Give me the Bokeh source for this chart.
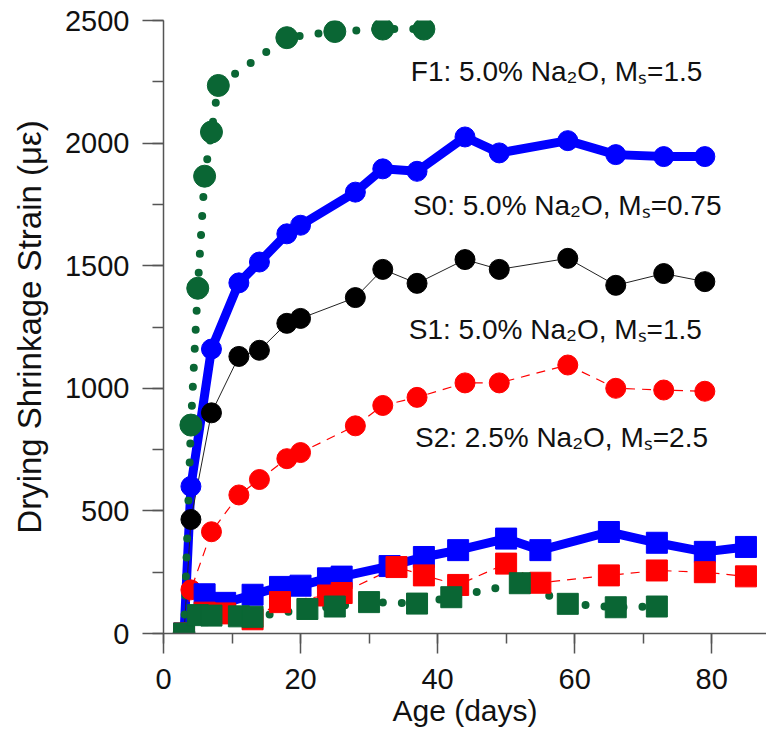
from bokeh.plotting import figure
from bokeh.models import Range1d, SingleIntervalTicker, Label
from bokeh.embed import file_html
from bokeh.resources import INLINE

# ---------------- data ----------------
# circles: drying shrinkage of each mix
circ_days = [3, 4, 7, 11, 14, 18, 20, 28, 32, 37, 44, 49, 59, 66, 73, 79]
s0_strain = [0, 600, 1160, 1430, 1515, 1630, 1665, 1800, 1895, 1885, 2025, 1960, 2010, 1953, 1945, 1945]
s1_strain = [0, 465, 900, 1130, 1155, 1265, 1285, 1370, 1485, 1428, 1525, 1485, 1530, 1420, 1468, 1435]
s2_strain = [0, 178, 415, 565, 628, 713, 738, 847, 930, 963, 1022, 1022, 1095, 1000, 993, 988]
f1_days = [3, 4, 5, 6, 7, 8, 18, 25, 32, 38]
f1_strain = [0, 850, 1408, 1865, 2045, 2235, 2430, 2455, 2465, 2465]

# squares: second set of specimens
s0_sq_days = [3, 6, 9, 13, 17, 20, 24, 26, 33, 38, 43, 50, 55, 65, 72, 79, 85]
s0_sq_strain = [0, 160, 125, 158, 190, 195, 225, 232, 275, 312, 340, 387, 340, 414, 370, 333, 353]
s2_sq_days = [3, 6, 9, 13, 17, 24, 26, 34, 38, 43, 50, 55, 65, 72, 79, 85]
s2_sq_strain = [0, 85, 82, 58, 128, 155, 165, 271, 237, 198, 285, 207, 237, 257, 250, 233]
f1_sq_days = [3, 5, 7, 11, 13, 21, 25, 30, 37, 42, 52, 59, 66, 72]
f1_sq_strain = [0, 75, 73, 70, 68, 100, 110, 128, 122, 148, 205, 121, 107, 110]

labels_text = ["F1: 5.0% Na\u2082O, M\u209b=1.5",
               "S0: 5.0% Na\u2082O, M\u209b=0.75",
               "S1: 5.0% Na\u2082O, M\u209b=1.5",
               "S2: 2.5% Na\u2082O, M\u209b=2.5"]
labels_x = [36.1, 36.4, 35.8, 36.7]
labels_y = [2292, 1745, 1240, 800]

BLUE = "#0000ff"
RED = "#ff0000"
BLACK = "#000000"
GREEN = "#0a6634"
FONT = "Liberation Sans"

p = figure(width=766, height=744, output_backend="svg", toolbar_location=None,
           x_range=Range1d(0, 88), y_range=Range1d(0, 2500),
           min_border_left=163, min_border_right=0, min_border_top=20,
           min_border_bottom=111)

p.grid.visible = False
p.outline_line_color = None
p.background_fill_color = "white"
p.border_fill_color = "white"

# lines
p.line(s0_sq_days, s0_sq_strain, line_color=BLUE, line_width=9, line_join="round")
p.line(s2_sq_days, s2_sq_strain, line_color=RED, line_width=1.2, line_dash="9 7")
p.line(f1_sq_days, f1_sq_strain, line_color=GREEN, line_width=8, line_dash="0 19", line_cap="round")
p.line(circ_days, s0_strain, line_color=BLUE, line_width=9, line_join="round")
p.line(circ_days, s1_strain, line_color="#222222", line_width=1)
p.line(circ_days, s2_strain, line_color=RED, line_width=1.2, line_dash="9 7")
p.line(f1_days, f1_strain, line_color=GREEN, line_width=8, line_dash="0 19", line_cap="round")

# circle markers
p.scatter(circ_days, s0_strain, marker="circle", size=20, fill_color=BLUE, line_color=BLUE)
p.scatter(circ_days, s1_strain, marker="circle", size=20, fill_color=BLACK, line_color=BLACK)
p.scatter(circ_days, s2_strain, marker="circle", size=20, fill_color=RED, line_color=RED)
p.scatter(f1_days, f1_strain, marker="circle", size=22, fill_color=GREEN, line_color=GREEN)

# square markers
p.scatter(s0_sq_days, s0_sq_strain, marker="square", size=21, fill_color=BLUE, line_color=BLUE)
p.scatter(s2_sq_days, s2_sq_strain, marker="square", size=21, fill_color=RED, line_color=RED)
p.scatter(f1_sq_days, f1_sq_strain, marker="square", size=21, fill_color=GREEN, line_color=GREEN)

for t, lx, ly in zip(labels_text, labels_x, labels_y):
    p.add_layout(Label(x=lx, y=ly, text=t, text_font=FONT, text_font_size="28px",
                       text_color="#111111", text_baseline="middle", text_align="left"))

# axes
p.xaxis.ticker = SingleIntervalTicker(interval=20, num_minor_ticks=2)
p.yaxis.ticker = SingleIntervalTicker(interval=500, num_minor_ticks=2)
for ax in (p.xaxis, p.yaxis):
    ax.axis_line_color = "#555555"
    ax.axis_line_width = 1.5
    ax.major_tick_line_color = "#555555"
    ax.major_tick_line_width = 1.5
    ax.minor_tick_line_color = "#555555"
    ax.minor_tick_line_width = 1.5
    ax.major_tick_in = 0
    ax.minor_tick_in = 0
    ax.major_label_text_font = FONT
    ax.major_label_text_font_size = "29px"
    ax.major_label_text_color = "#111111"
    ax.axis_label_text_font = FONT
    ax.axis_label_text_font_style = "normal"
    ax.axis_label_text_color = "#111111"

p.xaxis.major_tick_out = 20
p.xaxis.minor_tick_out = 10
p.xaxis.major_label_standoff = 15
p.xaxis.axis_label = "Age (days)"
p.xaxis.axis_label_text_font_size = "30px"
p.xaxis.axis_label_standoff = 2

p.yaxis.major_tick_out = 21
p.yaxis.minor_tick_out = 11
p.yaxis.major_label_standoff = 13
p.yaxis.axis_label = "Drying Shrinkage Strain (\u03bc\u03b5)"
p.yaxis.axis_label_text_font_size = "33px"
p.yaxis.axis_label_standoff = 14

open("out.html", "w").write(file_html(p, INLINE))
